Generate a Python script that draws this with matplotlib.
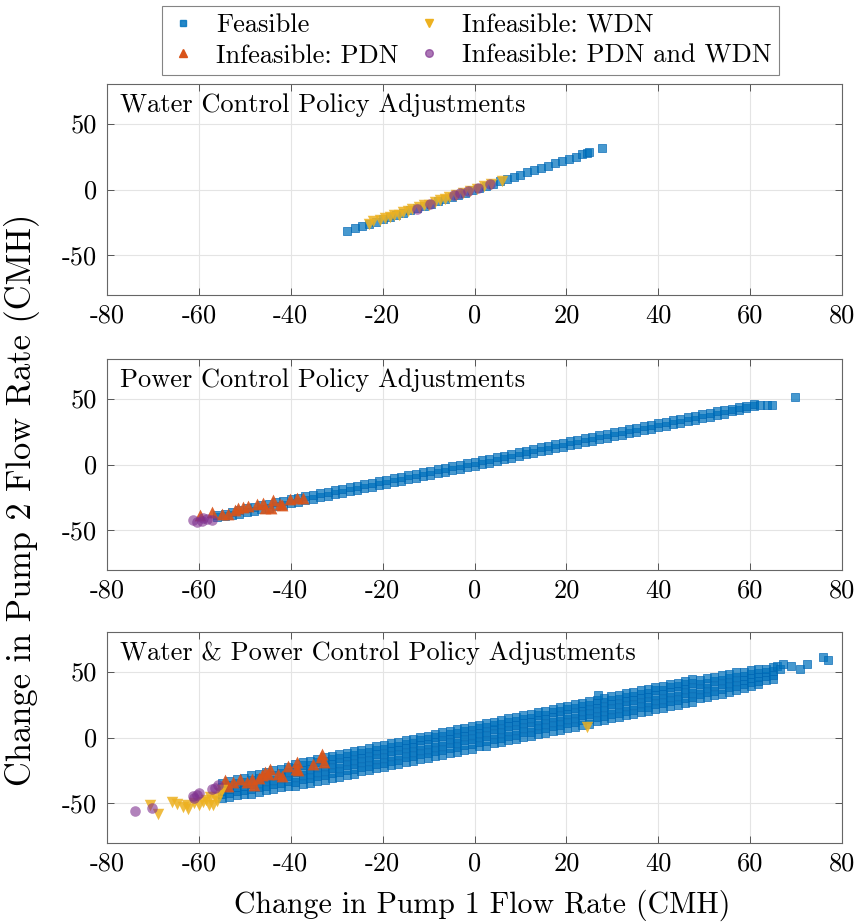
import matplotlib
matplotlib.use("Agg")
import matplotlib.pyplot as plt
from matplotlib.lines import Line2D

plt.rcParams['font.family'] = ['cmr10', 'DejaVu Serif']
plt.rcParams['axes.unicode_minus'] = False

# ---------------- data ----------------
x_ticks = [-80, -60, -40, -20, 0, 20, 40, 60, 80]
y_ticks = [-50, 0, 50]
x_tick_labels = ['-80', '-60', '-40', '-20', '0', '20', '40', '60', '80']
y_tick_labels = ['-50', '0', '50']

panel_titles = ['Water Control Policy Adjustments',
                'Power Control Policy Adjustments',
                'Water & Power Control Policy Adjustments']
legend_labels = ['Feasible', 'Infeasible: PDN', 'Infeasible: WDN',
                 'Infeasible: PDN and WDN']

# Water control policy
water_feas_x = [-27.8, -26.0, -24.5, -23.0, -21.5, -20.0, -18.5, -17.0, -15.5, -14.0,
                -12.5, -11.0, -9.5, -8.0, -6.5, -5.0, -3.5, -2.0, -0.5, 1.0, 2.5,
                4.0, 5.5, 7.0, 8.5, 10.0, 11.5, 13.0, 14.5, 16.0, 17.5, 19.0,
                20.5, 22.0, 23.5, 24.5, 25.0, 27.8]
water_feas_y = [-31.8, -29.4, -27.7, -26.0, -24.3, -22.6, -20.9, -19.2, -17.5, -15.8,
                -14.1, -12.4, -10.7, -9.0, -7.3, -5.7, -4.0, -2.3, -0.6, 1.1, 2.8,
                4.5, 6.2, 7.9, 9.6, 11.3, 13.0, 14.7, 16.4, 18.1, 19.8, 21.5,
                23.2, 24.9, 26.6, 27.7, 28.3, 31.8]
water_wdn_x = [-23.0, -22.0, -20.5, -19.5, -18.5, -17.5, -16.5, -15.5, -14.5, -13.5,
               -12.0, -11.0, -10.0, -8.5, -7.5, -6.5, -5.5, -4.0, -2.5, -1.0,
               0.5, 2.0, 3.5, 6.0]
water_wdn_y = [-26.5, -24.0, -23.5, -21.5, -21.0, -19.5, -19.0, -17.0, -16.5, -15.0,
               -13.5, -12.0, -11.5, -9.5, -8.0, -7.5, -6.0, -4.5, -3.0, -1.0,
               0.5, 2.5, 4.0, 6.8]
water_both_x = [-12.5, -9.7, -4.5, -3.2, -1.4, 0.8, 3.4]
water_both_y = [-14.6, -11.2, -4.4, -2.8, -1.0, 0.8, 4.0]

# Power control policy
power_feas_x = [-56.0, -54.4, -52.8, -51.2, -49.6, -48.0, -46.4, -44.8, -43.2, -41.6,
                -40.0, -38.4, -36.8, -35.2, -33.6, -32.0, -30.4, -28.8, -27.2, -25.6,
                -24.0, -22.4, -20.8, -19.2, -17.6, -16.0, -14.4, -12.8, -11.2, -9.6,
                -8.0, -6.4, -4.8, -3.2, -1.6, 0.0, 1.6, 3.2, 4.8, 6.4,
                8.0, 9.6, 11.2, 12.8, 14.4, 16.0, 17.6, 19.2, 20.8, 22.4,
                24.0, 25.6, 27.2, 28.8, 30.4, 32.0, 33.6, 35.2, 36.8, 38.4,
                40.0, 41.6, 43.2, 44.8, 46.4, 48.0, 49.6, 51.2, 52.8, 54.4,
                56.0, 57.6, 59.2, 60.8]
power_feas_lo = [-40.1, -39.0, -38.0, -37.2, -36.2, -35.4, -33.9, -33.1, -31.6, -30.8,
                 -29.3, -28.4, -27.0, -26.1, -24.7, -23.8, -22.4, -21.5, -20.1, -19.2,
                 -17.8, -16.9, -15.5, -14.6, -13.2, -12.3, -10.9, -10.0, -8.6, -7.7,
                 -6.3, -5.4, -4.0, -3.1, -1.7, -0.8, 0.7, 1.5, 3.0, 3.8,
                 5.3, 6.1, 7.6, 8.4, 9.9, 10.7, 12.2, 13.0, 14.5, 15.3,
                 16.8, 17.6, 19.1, 19.9, 21.4, 22.2, 23.7, 24.5, 26.0, 26.8,
                 28.3, 29.2, 30.6, 31.5, 32.9, 33.8, 35.2, 36.1, 37.5, 38.4,
                 40.3, 41.7, 42.8, 44.0]
power_feas_hi = [-38.5, -37.4, -36.0, -34.7, -33.2, -32.4, -30.9, -30.1, -28.6, -27.8,
                 -26.3, -25.4, -24.0, -23.1, -21.7, -20.8, -19.4, -18.5, -17.1, -16.2,
                 -14.8, -13.9, -12.5, -11.6, -10.2, -9.3, -7.9, -7.0, -5.6, -4.7,
                 -3.3, -2.4, -1.0, -0.1, 1.3, 2.2, 3.7, 4.5, 6.0, 6.8,
                 8.3, 9.1, 10.6, 11.4, 12.9, 13.7, 15.2, 16.0, 17.5, 18.3,
                 19.8, 20.6, 22.1, 22.9, 24.4, 25.2, 26.7, 27.5, 29.0, 29.8,
                 31.3, 32.2, 33.6, 34.5, 35.9, 36.8, 38.2, 39.1, 40.5, 41.4,
                 42.3, 43.3, 44.4, 45.6]
power_feas_tail_x = [62.2, 63.6, 64.7, 69.8]
power_feas_tail_y = [45.0, 45.0, 45.2, 51.5]
power_pdn_x = [-59.8, -57.2, -55.0, -53.6, -52.1, -51.4, -50.3, -49.2, -47.4, -46.0,
               -45.6, -44.2, -43.8, -42.3, -42.0, -40.2, -38.7, -37.3]
power_pdn_y = [-38.6, -36.1, -37.3, -37.3, -34.3, -32.8, -32.3, -31.8, -30.2, -29.2,
               -32.8, -32.8, -27.2, -29.7, -31.0, -25.9, -25.1, -25.1]
power_both_x = [-61.2, -60.5, -59.4, -59.0, -58.3, -57.1]
power_both_y = [-41.9, -43.7, -42.9, -40.5, -41.1, -41.9]

# Water & power control policy (feasible points grouped by column of pump-1 change)
wp_feas_cols_x = [-55.0, -53.4, -51.8, -50.2, -48.6, -47.0, -45.4, -43.8, -42.2, -40.6,
                  -39.0, -37.4, -35.8, -34.2, -32.6, -31.0, -29.4, -27.8, -26.2, -24.6,
                  -23.0, -21.4, -19.8, -18.2, -16.6, -15.0, -13.4, -11.8, -10.2, -8.6,
                  -7.0, -5.4, -3.8, -2.2, -0.6, 1.0, 2.6, 4.2, 5.8, 7.4,
                  9.0, 10.6, 12.2, 13.8, 15.4, 17.0, 18.6, 20.2, 21.8, 23.4,
                  25.0, 26.6, 28.2, 29.8, 31.4, 33.0, 34.6, 36.2, 37.8, 39.4,
                  41.0, 42.6, 44.2, 45.8, 47.4, 49.0, 50.6, 52.2, 53.8, 55.4,
                  57.0, 58.6, 60.2, 61.8, 63.4, 65.0]
wp_feas_cols_y = [
    [-46.2, -43.2, -40.2, -37.2, -34.2],
    [-45.0, -42.0, -39.0, -36.0, -33.0],
    [-43.8, -40.8, -37.8, -34.8, -31.8],
    [-42.7, -39.7, -36.7, -33.7, -30.7],
    [-42.5, -39.0, -35.5, -32.0, -28.5],
    [-41.3, -37.8, -34.3, -30.8, -27.3],
    [-40.1, -36.6, -33.1, -29.6, -26.1],
    [-38.9, -35.4, -31.9, -28.4, -24.9],
    [-37.7, -34.2, -30.7, -27.2, -23.7],
    [-36.5, -33.0, -29.5, -26.0, -22.5],
    [-36.9, -33.4, -29.9, -26.4, -22.9, -19.9],
    [-35.2, -31.7, -28.2, -24.7, -21.2, -18.7],
    [-34.5, -31.0, -27.5, -24.0, -20.5, -17.5],
    [-32.8, -29.3, -25.8, -22.3, -18.8, -16.3],
    [-32.1, -28.6, -25.1, -21.6, -18.1, -15.1],
    [-30.4, -26.9, -23.4, -19.9, -16.4, -13.9],
    [-29.8, -26.3, -22.8, -19.3, -15.8, -12.8],
    [-28.1, -24.6, -21.1, -17.6, -14.1, -11.6],
    [-27.4, -23.9, -20.4, -16.9, -13.4, -10.4],
    [-25.7, -22.2, -18.7, -15.2, -11.7, -9.2],
    [-25.0, -21.5, -18.0, -14.5, -11.0, -8.0],
    [-23.3, -19.8, -16.3, -12.8, -9.3, -6.8],
    [-22.7, -19.2, -15.7, -12.2, -8.7, -5.7],
    [-21.0, -17.5, -14.0, -10.5, -7.0, -4.5],
    [-20.3, -16.8, -13.3, -9.8, -6.3, -3.3],
    [-18.6, -15.1, -11.6, -8.1, -4.6, -2.1],
    [-17.9, -14.4, -10.9, -7.4, -3.9, -0.9],
    [-16.2, -12.7, -9.2, -5.7, -2.2, 0.3],
    [-15.5, -12.0, -8.5, -5.0, -1.5, 1.5],
    [-13.9, -10.4, -6.9, -3.4, 0.1, 2.6],
    [-13.2, -9.7, -6.2, -2.7, 0.8, 3.8],
    [-11.5, -8.0, -4.5, -1.0, 2.5, 5.0],
    [-10.8, -7.3, -3.8, -0.3, 3.2, 6.2],
    [-9.1, -5.6, -2.1, 1.4, 4.9, 7.4],
    [-8.4, -4.9, -1.4, 2.1, 5.6, 8.6],
    [-6.8, -3.3, 0.2, 3.7, 7.2, 9.7],
    [-6.1, -2.6, 0.9, 4.4, 7.9, 10.9],
    [-4.4, -0.9, 2.6, 6.1, 9.6, 12.1],
    [-3.7, -0.2, 3.3, 6.8, 10.3, 13.3],
    [-2.0, 1.5, 5.0, 8.5, 12.0, 14.5],
    [-1.3, 2.2, 5.7, 9.2, 12.7, 15.7],
    [0.3, 3.8, 7.3, 10.8, 14.3, 16.8],
    [1.0, 4.5, 8.0, 11.5, 15.0, 18.0],
    [2.7, 6.2, 9.7, 13.2, 16.7, 19.2],
    [3.4, 6.9, 10.4, 13.9, 17.4, 20.4],
    [5.1, 8.6, 12.1, 15.6, 19.1, 21.6],
    [5.8, 9.3, 12.8, 16.3, 19.8, 22.8],
    [7.4, 10.9, 14.4, 17.9, 21.4, 23.9],
    [8.1, 11.6, 15.1, 18.6, 22.1, 25.1],
    [9.8, 13.3, 16.8, 20.3, 23.8, 26.3],
    [10.5, 14.0, 17.5, 21.0, 24.5, 27.5],
    [12.2, 15.7, 19.2, 22.7, 26.2, 28.7],
    [12.9, 16.4, 19.9, 23.4, 26.9, 29.9],
    [14.6, 18.1, 21.6, 25.1, 28.6, 31.1],
    [15.2, 18.7, 22.2, 25.7, 29.2, 32.2],
    [16.9, 20.4, 23.9, 27.4, 30.9, 33.4],
    [17.6, 21.1, 24.6, 28.1, 31.6, 34.6],
    [19.3, 22.8, 26.3, 29.8, 33.3, 35.8],
    [20.0, 23.5, 27.0, 30.5, 34.0, 37.0],
    [21.7, 25.2, 28.7, 32.2, 35.7, 38.2],
    [22.3, 25.8, 29.3, 32.8, 36.3, 39.3],
    [24.0, 27.5, 31.0, 34.5, 38.0, 40.5],
    [24.7, 28.2, 31.7, 35.2, 38.7, 41.7],
    [26.4, 29.9, 33.4, 36.9, 40.4, 42.9],
    [27.1, 30.6, 34.1, 37.6, 41.1, 44.1],
    [29.8, 33.3, 36.8, 40.3, 43.8],
    [30.9, 34.4, 37.9, 41.4, 44.9],
    [32.1, 35.6, 39.1, 42.6, 46.1],
    [33.3, 36.8, 40.3, 43.8, 47.3],
    [34.5, 38.0, 41.5, 45.0, 48.5],
    [35.7, 39.2, 42.7, 46.2, 49.7],
    [37.9, 40.9, 43.9, 46.9, 49.9],
    [39.0, 42.0, 45.0, 48.0, 51.0],
    [40.2, 43.2, 46.2, 49.2, 52.2],
    [43.4, 46.4, 49.4, 51.9],
    [44.6, 47.6, 50.6, 53.1],
]
wp_feas_extra_x = [26.9, 65.8, 66.6, 67.2, 69.0, 70.8, 72.3, 75.9, 77.0]
wp_feas_extra_y = [32.5, 54.3, 52.0, 55.6, 54.3, 51.8, 56.0, 61.1, 58.6]
wp_pdn_x = [-54.3, -53.6, -52.5, -51.0, -49.6, -48.1, -48.5, -47.0, -46.3, -45.5,
            -44.5, -44.9, -42.7, -42.0, -40.5, -38.7, -38.4, -38.9, -35.1, -33.3,
            -32.8, -33.5]
wp_pdn_y = [-32.4, -36.9, -33.6, -31.1, -33.6, -36.1, -31.1, -30.5, -28.6, -26.0,
            -23.6, -27.3, -27.3, -29.3, -21.9, -18.5, -24.7, -23.6, -20.3, -12.6,
            -18.5, -15.1]
wp_wdn_x = [-70.6, -68.8, -65.9, -64.8, -63.5, -62.6, -62.3, -61.0, -59.9, -59.0,
            -58.5, -57.7, -57.6, -57.0, -56.5, -56.0, -55.4, -55.0, 24.4]
wp_wdn_y = [-51.3, -57.7, -48.8, -50.8, -52.5, -51.0, -54.0, -50.0, -51.0, -48.8,
            -47.5, -51.0, -45.0, -51.0, -45.0, -48.0, -42.3, -39.9, 8.1]
wp_both_x = [-73.8, -70.1, -61.3, -61.0, -60.5, -59.9, -57.2, -56.5, -55.9]
wp_both_y = [-55.7, -53.8, -44.5, -46.2, -43.7, -42.4, -39.4, -38.6, -36.1]

# ---------------- styling ----------------
C_FEAS = '#0072BD'
C_PDN = '#D95319'
C_WDN = '#EDB120'
C_BOTH = '#7E2F8E'

feas_kw = dict(marker='s', s=38, facecolor=(0.0, 0.447, 0.741, 0.72),
               edgecolor=(0.0, 0.40, 0.70, 0.9), linewidths=0.5, zorder=2)
pdn_kw = dict(marker='^', s=72, color=C_PDN, alpha=0.9, linewidths=0, zorder=3)
wdn_kw = dict(marker='v', s=68, color=C_WDN, alpha=0.85, linewidths=0, zorder=4)
both_kw = dict(marker='o', s=58, color=C_BOTH, alpha=0.6, linewidths=0, zorder=5)

fig = plt.figure(figsize=(8.59, 9.23), dpi=100)
left, width, height = 107 / 859, 735 / 859, 211 / 923
bottoms = [1 - 295 / 923, 1 - 570 / 923, 1 - 843 / 923]
axes = [fig.add_axes([left, b, width, height]) for b in bottoms]

# flatten the column-grouped feasible set of the combined policy
wp_feas_x = [cx for cx, ys in zip(wp_feas_cols_x, wp_feas_cols_y) for _ in ys] + wp_feas_extra_x
wp_feas_y = [y for ys in wp_feas_cols_y for y in ys] + wp_feas_extra_y

ax = axes[0]
ax.scatter(water_feas_x, water_feas_y, **feas_kw)
ax.scatter(water_wdn_x, water_wdn_y, **wdn_kw)
ax.scatter(water_both_x, water_both_y, **both_kw)

ax = axes[1]
ax.scatter(power_feas_x + power_feas_x + power_feas_tail_x,
           power_feas_lo + power_feas_hi + power_feas_tail_y, **feas_kw)
ax.scatter(power_pdn_x, power_pdn_y, **pdn_kw)
ax.scatter(power_both_x, power_both_y, **both_kw)

ax = axes[2]
ax.scatter(wp_feas_x, wp_feas_y, **feas_kw)
ax.scatter(wp_pdn_x, wp_pdn_y, **pdn_kw)
ax.scatter(wp_wdn_x, wp_wdn_y, **wdn_kw)
ax.scatter(wp_both_x, wp_both_y, **both_kw)

for ax, title in zip(axes, panel_titles):
    ax.set_xlim(-80, 80)
    ax.set_ylim(-80, 80)
    ax.set_xticks(x_ticks)
    ax.set_xticklabels(x_tick_labels)
    ax.set_yticks(y_ticks)
    ax.set_yticklabels(y_tick_labels)
    ax.grid(True, color='#e4e4e4', linewidth=0.8, zorder=0)
    ax.set_axisbelow(True)
    ax.tick_params(direction='in', length=5, width=0.7, color='#555555',
                   labelsize=19, top=True, right=True, pad=7)
    ax.tick_params(axis='x', pad=6)
    for sp in ax.spines.values():
        sp.set_color('#666666')
        sp.set_linewidth(0.8)
    ax.text(0.018, 0.955, title, transform=ax.transAxes, ha='left', va='top',
            fontsize=19, zorder=6)

fig.text(0.561, 0.019, 'Change in Pump 1 Flow Rate (CMH)', ha='center',
         va='center', fontsize=21.5)
fig.text(0.026, 0.458, 'Change in Pump 2 Flow Rate (CMH)', ha='center',
         va='center', rotation=90, fontsize=24.8)

handles = [
    Line2D([], [], linestyle='none', marker='s', markersize=5,
           markerfacecolor=C_FEAS, markeredgecolor=C_FEAS, alpha=0.85),
    Line2D([], [], linestyle='none', marker='^', markersize=6,
           markerfacecolor=C_PDN, markeredgecolor=C_PDN),
    Line2D([], [], linestyle='none', marker='v', markersize=6,
           markerfacecolor=C_WDN, markeredgecolor=C_WDN),
    Line2D([], [], linestyle='none', marker='o', markersize=5.5,
           markerfacecolor=C_BOTH, markeredgecolor=C_BOTH, alpha=0.65),
]
leg = fig.legend(handles, legend_labels, ncol=2, loc='upper center',
                 bbox_to_anchor=(0.548, 0.994), fontsize=19, frameon=True,
                 fancybox=False, edgecolor='#666666', handlelength=1.0,
                 handletextpad=0.75, columnspacing=0.65, labelspacing=0.25,
                 borderpad=0.3, borderaxespad=0.0)
leg.get_frame().set_linewidth(0.8)

fig.savefig('out.png', dpi=100, facecolor='white')
